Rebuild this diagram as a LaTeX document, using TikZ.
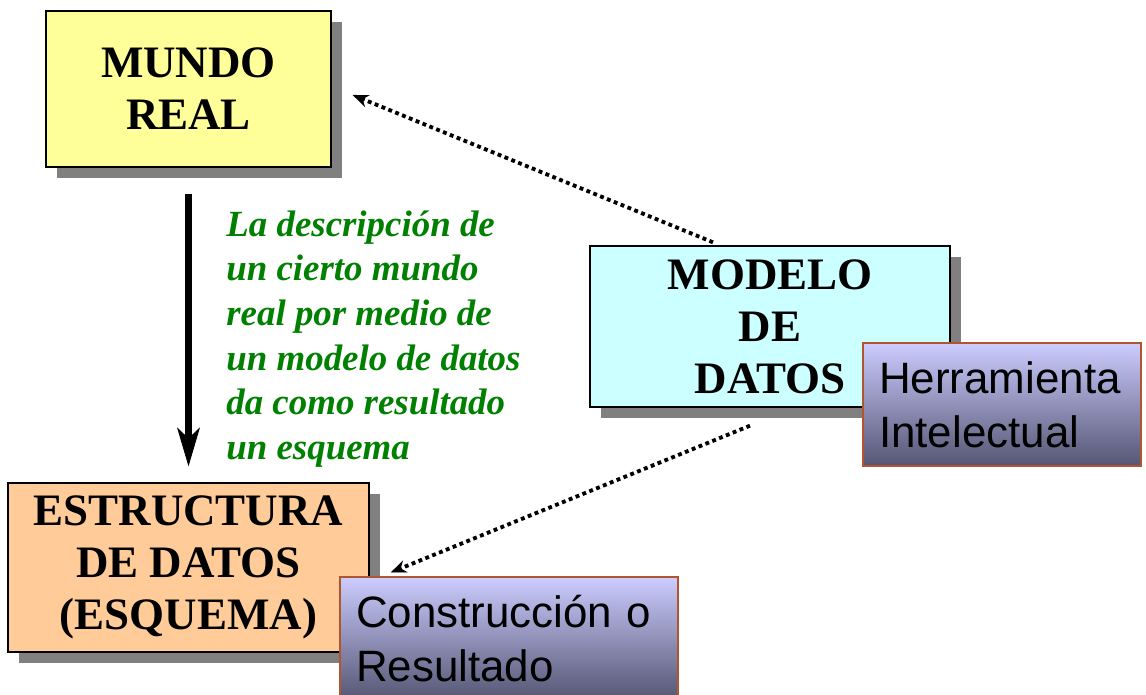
\documentclass[tikz,border=0pt]{standalone}
\usepackage{fontspec}
\setmainfont{Liberation Serif}
\newfontfamily\arialfont{Liberation Sans}
\usetikzlibrary{arrows.meta}
\usetikzlibrary{calc}
\usetikzlibrary{shadows}

\definecolor{mundofill}{HTML}{FFFF99}
\definecolor{modelofill}{HTML}{CCFFFF}
\definecolor{estrfill}{HTML}{FFCC99}
\definecolor{shadowgray}{HTML}{808080}
\definecolor{descgreen}{HTML}{008000}
\definecolor{tagtop}{HTML}{CCCCFF}
\definecolor{tagbottom}{HTML}{555573}
\definecolor{tagborder}{HTML}{B0552E}

\begin{document}
\begin{tikzpicture}[x=0.02cm, y=-0.02cm,
    box/.style={draw, line width=0.8pt, rectangle, align=center,
        font=\fontsize{25.6}{29.6}\selectfont\bfseries,
        drop shadow={shadow xshift=0.22cm, shadow yshift=-0.22cm, fill=shadowgray, opacity=1}},
    tag/.style={draw=tagborder, line width=0.8pt, rectangle, top color=tagtop, bottom color=tagbottom,
        minimum height=2.46cm, inner xsep=0.32cm, align=left,
        font=\arialfont\fontsize{25}{30.7}\selectfont},
    dotarrow/.style={line width=2.2pt, dash pattern=on 2.2pt off 2pt,
        -{Stealth[length=0.32cm, width=0.26cm, line width=0.5pt]}}]

    \useasboundingbox (0,0) rectangle (1146,695);
    \clip (0,0) rectangle (1146,695);

    \node (mundo) [box, fill=mundofill, minimum width=5.7cm, minimum height=3.12cm] at (188.5,89) {MUNDO\\REAL};
    \node (modelo) [box, fill=modelofill, minimum width=7.2cm, minimum height=3.22cm] at (770,326.5) {MODELO\\DE\\DATOS};
    \node (estr) [box, fill=estrfill, minimum width=7.22cm, minimum height=3.38cm] at (188.5,567.5) {ESTRUCTURA\\DE DATOS\\(ESQUEMA)};

    \node (desc) [anchor=west, align=left, inner sep=0pt, text=descgreen,
        font=\fontsize{21}{25.4}\selectfont\bfseries\itshape] at (226,339)
        {La descripción de\\un cierto mundo\\real por medio de\\un modelo de datos\\da como resultado\\un esquema};

    % etiquetas sobre las cajas
    \node (herr) [tag, minimum width=5.56cm, text width=4.92cm] at (1002,404.5) {Herramienta\\Intelectual};
    \node (cons) [tag, minimum width=6.76cm, text width=6.12cm] at (509,638.5) {Construcción o\\Resultado};

    \draw[line width=4.5pt, shorten <=0.52cm, shorten >=0.32cm,
        -{Stealth[length=0.78cm, width=0.46cm, inset=0.22cm, line width=0.5pt]}] (mundo.south) -- (estr.north);
    \draw[dotarrow] ($(modelo.north)+(-57,-3)$) -- ($(mundo.east)+(21,6)$);
    \draw[dotarrow] ($(modelo.south)+(-20,18)$) -- ($(estr.east)+(21,5)$);

\end{tikzpicture}
\end{document}
